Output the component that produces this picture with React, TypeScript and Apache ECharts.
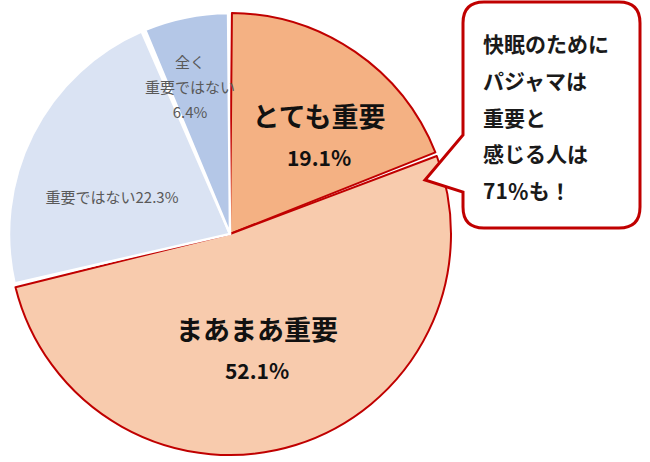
import React, { useEffect, useRef } from "react";
import * as echarts from "echarts";

// ---- data ----
const CATEGORIES = ["とても重要", "まあまあ重要", "重要ではない", "全く重要ではない"];
const VALUES = [19.1, 52.1, 22.3, 6.4];
const LABEL_LINES = [["とても重要"], ["まあまあ重要"], ["重要ではない"], ["全く", "重要ではない"]];
const CALLOUT_LINES = ["快眠のために", "パジャマは", "重要と", "感じる人は", "71％も！"];

// ---- styling ----
const FILLS = ["#F4B183", "#F8CBAD", "#DAE3F3", "#B4C7E7"];
const RED = "#C00000";
const LABEL_POS: [number, number][] = [
  [319, 136],
  [257, 349],
  [112, 196],
  [190, 86],
];

const CALLOUT_D =
  "M 484 2 H 619 Q 640 2 640 23 V 207 Q 640 228 619 228 H 484 Q 463 228 463 207 V 192 L 425 180 L 463 135 V 23 Q 463 2 484 2 Z";

let registered = false;
function ensureShape() {
  if (registered) return;
  echarts.graphic.registerShape("callout", echarts.graphic.extendPath(CALLOUT_D, {}));
  registered = true;
}

const FONT = "'Noto Sans CJK JP', 'Noto Sans', sans-serif";

export default function App() {
  const ref = useRef<HTMLDivElement>(null);
  useEffect(() => {
    if (!ref.current) return;
    ensureShape();
    const chart = echarts.init(ref.current, undefined, { renderer: "svg" });
    const data = CATEGORIES.map((name, i) => {
      const big = i < 2;
      return {
        name,
        value: VALUES[i],
        itemStyle: {
          color: FILLS[i],
          borderColor: big ? RED : "#ffffff",
          borderWidth: big ? 2 : 2.5,
        },
        label: big
          ? {
              formatter: (p: any) =>
                `{a|${LABEL_LINES[p.dataIndex].join("\n")}}\n{b|${p.value.toFixed(1)}%}`,
              rich: {
                a: { fontFamily: FONT, fontSize: 27, fontWeight: "bold", color: "#111", lineHeight: 42 },
                b: { fontFamily: FONT, fontSize: 21, fontWeight: "bold", color: "#111", lineHeight: 42 },
              },
            }
          : i === 2
          ? {
              formatter: (p: any) => `${LABEL_LINES[p.dataIndex].join("")}${p.value.toFixed(1)}%`,
              fontFamily: FONT,
              fontSize: 15,
              color: "#595959",
            }
          : {
              formatter: (p: any) => `${LABEL_LINES[p.dataIndex].join("\n")}\n${p.value.toFixed(1)}%`,
              fontFamily: FONT,
              fontSize: 15,
              lineHeight: 25,
              color: "#595959",
            },
      };
    });

    chart.setOption({
      animation: false,
      backgroundColor: "#ffffff",
      series: [
        {
          type: "pie",
          center: [230, 234],
          radius: [0, 221],
          startAngle: 90,
          clockwise: true,
          padAngle: 1,
          avoidLabelOverlap: false,
          silent: true,
          label: { show: true, position: "inside", align: "center" },
          labelLine: { show: false },
          labelLayout: (params: any) => {
            const pos = LABEL_POS[params.dataIndex];
            return { x: pos[0], y: pos[1], align: "center", verticalAlign: "middle" };
          },
          emphasis: { disabled: true },
          data,
        },
      ],
      graphic: [
        {
          type: "callout",
          x: 0,
          y: 0,
          z: 10,
          style: { fill: "#ffffff", stroke: RED, lineWidth: 3, lineJoin: "miter" },
        },
        {
          type: "text",
          x: 483,
          y: 25,
          z: 11,
          style: {
            text: CALLOUT_LINES.join("\n"),
            fontFamily: FONT,
            fontSize: 21,
            fontWeight: "bold",
            fill: "#1a1a1a",
            lineHeight: 36.7,
            align: "left",
            verticalAlign: "top",
          },
        },
      ],
    });
    return () => chart.dispose();
  }, []);
  return (
    <div
      ref={ref}
      style={{ position: "fixed", left: 0, top: 0, width: 650, height: 462 }}
    />
  );
}
